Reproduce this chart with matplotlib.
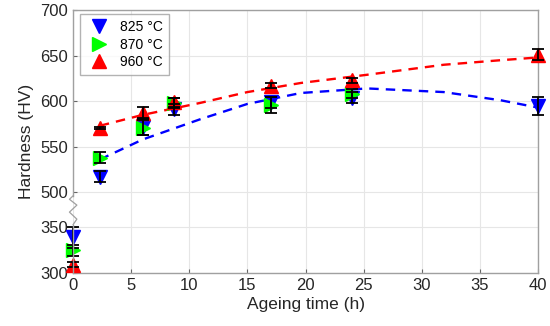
import numpy as np
import matplotlib.pyplot as plt

plt.rcParams['font.family'] = ['Liberation Sans', 'DejaVu Sans']

# ageing times (h)
t = [0, 2.3, 6, 8.7, 17, 24, 40]
t870 = [0, 2.3, 6, 8.7, 17, 24]

hv825 = [339, 517, 572, 591, 599, 604, 595]
err825 = [12, 6, 9, 6, 6, 6, 10]
hv870 = [325, 538, 571, 598, 596, 608]
err870 = [6, 6, 8, 5, 9, 5]
hv960 = [309, 571, 587, 599, 617, 623, 651]
err960 = [3, 1, 7, 5, 3, 3, 6]

# dashed trend lines
fit_t = [2.3, 6, 10.9, 15, 19.6, 25.3, 31.9, 36.8, 40]
fit825 = [536, 558, 580, 597, 609, 614, 610, 601, 593]
fit960 = [573, 585, 598, 610, 620, 629, 640, 645, 648]

# broken y axis: 300-350 then 500-700
GAP = 0.77


def fwd(v):
    v = np.asarray(v, dtype=float)
    return np.where(v <= 350, (v - 300) / 50,
                    np.where(v >= 500, 1 + GAP + (v - 500) / 50,
                             1 + (v - 350) / 150 * GAP))


def inv(u):
    u = np.asarray(u, dtype=float)
    return np.where(u <= 1, 300 + u * 50,
                    np.where(u >= 1 + GAP, 500 + (u - 1 - GAP) * 50,
                             350 + (u - 1) / GAP * 150))


fig = plt.figure(figsize=(5.5, 3.26), dpi=100)
ax = fig.add_axes([0.133, 0.163, 0.845, 0.806])
ax.set_yscale('function', functions=(fwd, inv))

ax.plot(fit_t, fit825, '--', color='#0000ff', lw=1.7, dashes=(4, 3), zorder=2)
ax.plot(fit_t, fit960, '--', color='#ff0000', lw=1.7, dashes=(4, 3), zorder=2)

ax.plot(t, hv825, 'v', color='#0000ff', ms=10, ls='none', label='825 °C',
        zorder=3, clip_on=False)
ax.plot(t870, hv870, '>', color='#00ff00', ms=10, ls='none', label='870 °C',
        zorder=3, clip_on=False)
ax.plot(t, hv960, '^', color='#ff0000', ms=10, ls='none', label='960 °C',
        zorder=3, clip_on=False)

for x, y, e in [(t, hv825, err825), (t870, hv870, err870), (t, hv960, err960)]:
    eb = ax.errorbar(x, y, yerr=e, fmt='none', ecolor='black', elinewidth=1.3,
                     capsize=4, capthick=1.3, zorder=4)
    for art in eb.lines[1] + eb.lines[2]:
        art.set_clip_on(False)

ax.set_xlim(0, 40)
ax.set_ylim(300, 700)
ax.set_xticks(range(0, 41, 5))
ax.set_yticks([300, 350, 500, 550, 600, 650, 700])
ax.grid(True, color='#e6e6e6', lw=0.8)
ax.set_axisbelow(True)
ax.tick_params(direction='in', length=3, colors='#666666', labelcolor='#262626',
               labelsize=12, top=False, right=False)
for s in ax.spines.values():
    s.set_color('#a0a0a0')
    s.set_linewidth(1.0)

# left spine with a zigzag break between 350 and 500
ax.spines['left'].set_visible(False)
tr = ax.get_yaxis_transform()
ax.plot([0, 0], [300, 362], color='#a0a0a0', lw=1.0, transform=tr, clip_on=False, zorder=5)
ax.plot([0, 0], [485, 700], color='#a0a0a0', lw=1.0, transform=tr, clip_on=False, zorder=5)
zz_x = [0, -0.008, 0.008, -0.008, 0.008, 0]
zz_y = [485, 470, 445, 415, 385, 362]
ax.plot(zz_x, zz_y, color='#a0a0a0', lw=0.9, transform=tr, clip_on=False, zorder=5)

ax.set_xlabel('Ageing time (h)', fontsize=12.5, color='#262626', labelpad=3)
ax.set_ylabel('Hardness (HV)', fontsize=12.5, color='#262626', labelpad=5)

leg = ax.legend(loc='upper left', fontsize=10, frameon=True, fancybox=False,
                edgecolor='#a0a0a0', borderpad=0.45, handletextpad=0.6,
                handlelength=1.8, labelspacing=0.25, borderaxespad=0,
                markerscale=0.95, bbox_to_anchor=(0.015, 0.985))
leg.get_frame().set_linewidth(1.0)

fig.savefig('out.png', dpi=100)
